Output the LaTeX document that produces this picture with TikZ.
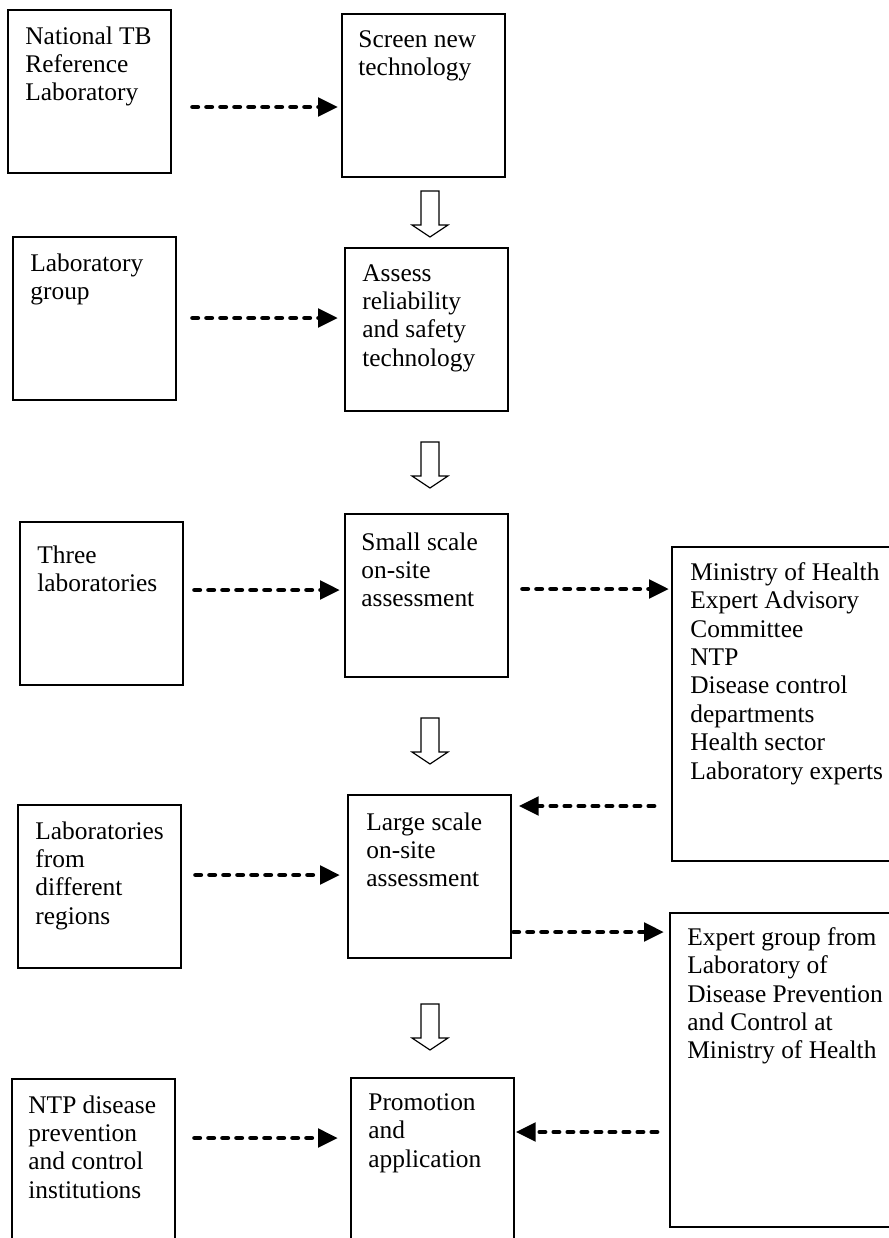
\documentclass[tikz,border=0pt]{standalone}
\usepackage{fontspec}
\setmainfont{Liberation Serif}
\usetikzlibrary{arrows.meta,calc}

\begin{document}
\begin{tikzpicture}[x=0.5pt,y=-0.5pt]

                \tikzset{box/.style = {shape=rectangle,draw,line width=0.8pt,anchor=north west,inner sep=0pt,minimum width=81.5pt,minimum height=81.5pt}}
                \tikzset{widebox/.style = {box,minimum width=116pt,minimum height=157pt}}
                \tikzset{lbl/.style = {anchor=north west,inner sep=0pt,align=left,font=\fontsize{12.7}{14.2}\selectfont}}
                \tikzset{flow/.style = {line width=2.4pt,line cap=round,dash pattern=on 2.6pt off 4.4pt,-{Triangle[length=10pt,width=9pt]}}}
                \tikzset{downarrow/.pic = {\draw[line width=0.6pt,fill=white] (-9,0) -- (-9,34) -- (-18,34) -- (0,46) -- (18,34) -- (9,34) -- (9,0) -- cycle;}}

                \useasboundingbox (0,0) rectangle (889,1238);
                \clip (0,0) rectangle (889,1238);

                % left column
                \node[box] (ntrl) at (7,9) {};
                \node[box] (labgroup) at (12,236) {};
                \node[box] (three) at (19,521) {};
                \node[box] (regions) at (17,804) {};
                \node[box,minimum height=90pt] (ntp) at (11,1078) {};
                % middle column
                \node[box] (screen) at (341,13) {};
                \node[box] (assess) at (344,247) {};
                \node[box] (small) at (344,513) {};
                \node[box] (large) at (347,794) {};
                \node[box,minimum height=90pt] (promo) at (350,1077) {};
                % right column
                \node[widebox] (ministry) at (671,546) {};
                \node[widebox] (expert) at (669,912) {};

                \node[lbl] (ntrl-t) at ($(ntrl.north west)+(18,17)$) {National TB\\Reference\\Laboratory};
                \node[lbl] (labgroup-t) at ($(labgroup.north west)+(18,17)$) {Laboratory\\group};
                \node[lbl] (three-t) at ($(three.north west)+(18,24)$) {Three\\laboratories};
                \node[lbl] (regions-t) at ($(regions.north west)+(18,17)$) {Laboratories\\from\\different\\regions};
                \node[lbl] (ntp-t) at ($(ntp.north west)+(17,17)$) {NTP disease\\prevention\\and control\\institutions};
                \node[lbl] (screen-t) at ($(screen.north west)+(17,17)$) {Screen new\\technology};
                \node[lbl] (assess-t) at ($(assess.north west)+(18,17)$) {Assess\\reliability\\and safety\\technology};
                \node[lbl] (small-t) at ($(small.north west)+(17,19)$) {Small scale\\on-site\\assessment};
                \node[lbl] (large-t) at ($(large.north west)+(19,18)$) {Large scale\\on-site\\assessment};
                \node[lbl] (promo-t) at ($(promo.north west)+(18,16)$) {Promotion\\and\\application};
                \node[lbl] (ministry-t) at ($(ministry.north west)+(19,16)$) {Ministry of Health\\Expert Advisory\\Committee\\NTP\\Disease control\\departments\\Health sector\\Laboratory experts};
                \node[lbl] (expert-t) at ($(expert.north west)+(18,15)$) {Expert group from\\Laboratory of\\Disease Prevention\\and Control at\\Ministry of Health};

                % rows of the dashed arrows
                \coordinate (r1) at (0,107);
                \coordinate (r2) at (0,318);
                \coordinate (r3) at (0,590);
                \coordinate (r4) at (0,589);
                \coordinate (r5) at (0,806);
                \coordinate (r6) at (0,875);
                \coordinate (r7) at (0,932);
                \coordinate (r8) at (0,1138);
                \coordinate (r9) at (0,1132);

                \draw[flow,shorten <=10.5pt,shorten >=1.5pt] (ntrl.east |- r1) -- (screen.west |- r1);
                \draw[flow,shorten <=8pt,shorten >=3pt] (labgroup.east |- r2) -- (assess.west |- r2);
                \draw[flow,shorten <=5.5pt,shorten >=2pt] (three.east |- r3) -- (small.west |- r3);
                \draw[flow,shorten <=7pt,shorten >=1pt] (small.east |- r4) -- (ministry.west |- r4);
                \draw[flow,shorten <=8.5pt,shorten >=3.5pt] (ministry.west |- r5) -- (large.east |- r5);
                \draw[flow,shorten <=7pt,shorten >=3.5pt] (regions.east |- r6) -- (large.west |- r6);
                \draw[flow,shorten <=1pt,shorten >=2.5pt] (large.east |- r7) -- (expert.west |- r7);
                \draw[flow,shorten <=9.5pt,shorten >=6pt] (ntp.east |- r8) -- (promo.west |- r8);
                \draw[flow,shorten <=6pt,shorten >=0.5pt] (expert.west |- r9) -- (promo.east |- r9);

                % hollow arrows down the middle
                \coordinate (h1) at (430,191);
                \coordinate (h2) at (430,442);
                \coordinate (h3) at (430,718);
                \coordinate (h4) at (430,1004);
                \pic at (h1) {downarrow};
                \pic at (h2) {downarrow};
                \pic at (h3) {downarrow};
                \pic at (h4) {downarrow};
            \end{tikzpicture}
\end{document}
